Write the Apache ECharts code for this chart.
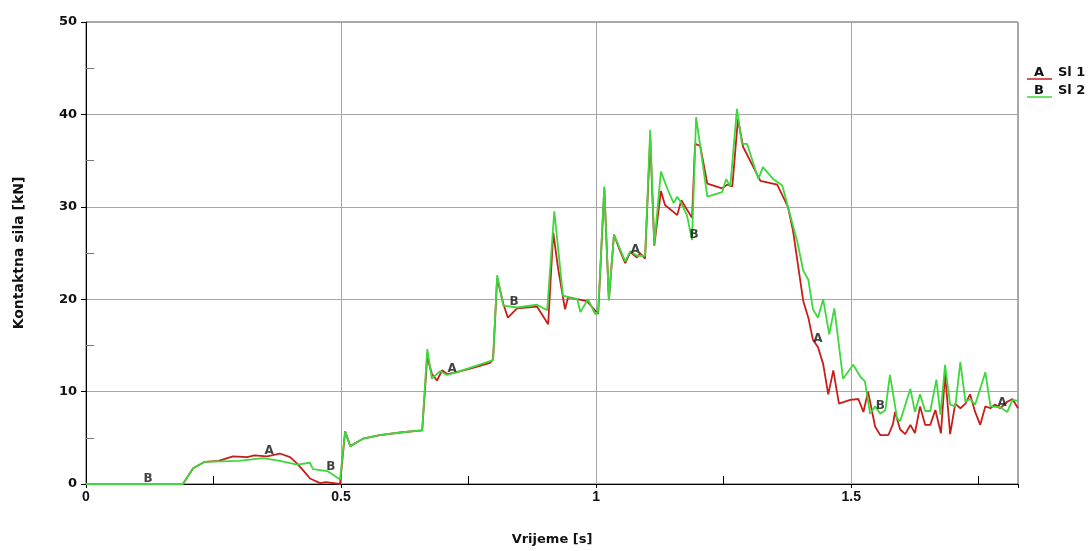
<!DOCTYPE html>
<html>
<head>
<meta charset="utf-8">
<script src="https://cdn.jsdelivr.net/npm/echarts@6/dist/echarts.min.js"></script>
<style>
  html, body { margin: 0; padding: 0; background: #fff; }
  #main { width: 1092px; height: 551px; }
</style>
</head>
<body>
<div id="main"></div>
<script>
// Sl 1 (red) - vrijeme [s] / kontaktna sila [kN]
var sl1Time = [0, 0.19, 0.21, 0.233, 0.26, 0.288, 0.316, 0.33, 0.355, 0.38, 0.40, 0.414, 0.43, 0.439, 0.459, 0.47, 0.498,
  0.500, 0.508, 0.518, 0.543, 0.576, 0.62, 0.659, 0.669, 0.678, 0.688, 0.698, 0.708, 0.727, 0.76, 0.792, 0.798,
  0.806, 0.818, 0.827, 0.845, 0.884, 0.906, 0.916, 0.925, 0.939, 0.945, 0.982, 1.004, 1.016, 1.025, 1.035, 1.045,
  1.057, 1.067, 1.08, 1.086, 1.096, 1.106, 1.114, 1.127, 1.135, 1.159, 1.167, 1.188, 1.194, 1.204, 1.218, 1.247,
  1.257, 1.267, 1.278, 1.288, 1.322, 1.355, 1.376, 1.386, 1.406, 1.416, 1.425, 1.435, 1.445, 1.455, 1.465, 1.476,
  1.498, 1.514, 1.524, 1.533, 1.547, 1.557, 1.573, 1.582, 1.586, 1.596, 1.606, 1.616, 1.625, 1.635, 1.645, 1.655,
  1.665, 1.676, 1.684, 1.694, 1.704, 1.714, 1.724, 1.733, 1.743, 1.753, 1.763, 1.773, 1.782, 1.792, 1.806, 1.816, 1.827];
var sl1Force = [0, 0, 1.7, 2.4, 2.5, 3.0, 2.9, 3.1, 3.0, 3.3, 2.9, 2.2, 1.2, 0.6, 0.1, 0.2, 0,
  0.2, 5.7, 4.1, 4.9, 5.3, 5.6, 5.8, 13.8, 11.9, 11.2, 12.3, 11.9, 12.1, 12.6, 13.1, 13.5,
  22.3, 19.5, 18.0, 19.0, 19.2, 17.3, 27.2, 23.5, 18.9, 20.2, 19.8, 18.4, 32.0, 19.9, 27.0, 25.5,
  23.9, 25.1, 24.5, 25.0, 24.4, 37.5, 25.8, 31.7, 30.2, 29.1, 30.7, 28.8, 36.8, 36.6, 32.5, 32.0,
  32.4, 32.2, 39.5, 36.5, 32.8, 32.4, 30.0, 27.4, 19.8, 18.0, 15.6, 14.8, 13.0, 9.7, 12.3, 8.7,
  9.1, 9.2, 7.8, 10.0, 6.2, 5.3, 5.3, 6.5, 7.8, 5.9, 5.4, 6.4, 5.5, 8.4, 6.4, 6.4,
  8.0, 5.5, 11.9, 5.4, 8.7, 8.2, 8.7, 9.7, 7.8, 6.4, 8.4, 8.2, 8.6, 8.2, 8.9, 9.2, 8.2];

// Sl 2 (green)
var sl2Time = [0, 0.19, 0.21, 0.233, 0.30, 0.347, 0.38, 0.414, 0.439, 0.445, 0.473, 0.498,
  0.500, 0.508, 0.518, 0.543, 0.576, 0.62, 0.659, 0.669, 0.678, 0.694, 0.708, 0.727, 0.76, 0.792, 0.798,
  0.806, 0.818, 0.845, 0.884, 0.904, 0.918, 0.935, 0.963, 0.969, 0.984, 0.998, 1.004, 1.016, 1.025, 1.035,
  1.057, 1.067, 1.08, 1.096, 1.106, 1.114, 1.127, 1.14, 1.152, 1.159, 1.165, 1.178, 1.188, 1.196, 1.218, 1.247, 1.255,
  1.263, 1.276, 1.286, 1.296, 1.318, 1.327, 1.347, 1.365, 1.376, 1.394, 1.406, 1.416, 1.425, 1.435, 1.445,
  1.457, 1.467, 1.484, 1.504, 1.518, 1.527, 1.537, 1.547, 1.557, 1.567, 1.576, 1.59, 1.596, 1.616, 1.625,
  1.635, 1.645, 1.655, 1.667, 1.675, 1.684, 1.694, 1.704, 1.714, 1.724, 1.733, 1.743, 1.763, 1.773, 1.792,
  1.806, 1.816, 1.827];
var sl2Force = [0, 0, 1.7, 2.4, 2.5, 2.8, 2.5, 2.1, 2.3, 1.6, 1.4, 0.5,
  0.3, 5.7, 4.1, 4.9, 5.3, 5.6, 5.8, 14.6, 11.4, 12.2, 11.8, 12.1, 12.7, 13.3, 13.4,
  22.6, 19.3, 19.1, 19.4, 18.8, 29.5, 20.4, 20.0, 18.6, 20.0, 18.4, 18.6, 32.2, 19.9, 27.0,
  24.1, 25.2, 24.7, 24.7, 38.3, 25.9, 33.8, 31.9, 30.4, 31.1, 30.6, 29.1, 26.4, 39.7, 31.1, 31.6, 33.0,
  32.2, 40.6, 36.8, 36.8, 33.0, 34.3, 33.0, 32.3, 30.0, 26.3, 23.1, 22.1, 18.9, 18.0, 20.0,
  16.2, 19.0, 11.4, 12.9, 11.6, 11.1, 7.6, 8.4, 7.6, 8.0, 11.8, 7.1, 6.8, 10.3, 7.8,
  9.7, 7.9, 7.9, 11.3, 7.5, 12.9, 8.6, 8.4, 13.2, 8.9, 9.2, 8.6, 12.1, 8.4, 8.3,
  7.8, 9.1, 9.0];

// curve identifiers drawn along the lines
var markerATimes = [0.355, 0.714, 1.073, 1.431, 1.792];
var markerBTimes = [0.118, 0.476, 0.835, 1.188, 1.553];

var xTicks = [0, 0.5, 1, 1.5];

function pairs(ts, vs) {
  return ts.map(function (t, i) { return [t, vs[i]]; });
}
function valueAt(ts, vs, t) {
  for (var i = 1; i < ts.length; i++) {
    if (t <= ts[i]) {
      var k = (t - ts[i - 1]) / (ts[i] - ts[i - 1]);
      return vs[i - 1] + k * (vs[i] - vs[i - 1]);
    }
  }
  return vs[vs.length - 1];
}

var RED = '#c81e1a';
var GREEN = '#3cd83c';
var FONT = 'Liberation Sans';
var WIDE = 'DejaVu Sans';

function markerSeries(times, ts, vs, letter) {
  return {
    type: 'scatter',
    symbolSize: 0,
    z: 5,
    silent: true,
    data: times.map(function (t) { return [t, valueAt(ts, vs, t)]; }),
    label: {
      show: true, position: 'inside', offset: [2, -5], formatter: letter,
      color: '#111', fontFamily: WIDE, fontWeight: 'bold', fontSize: 12
    }
  };
}

var myChart = echarts.init(document.getElementById('main'));
myChart.setOption({
  animation: false,
  backgroundColor: '#fff',
  grid: { left: 86, right: 74, top: 22, bottom: 63, show: true, borderColor: '#555', borderWidth: 1 },
  xAxis: {
    type: 'value', min: 0, max: 1.827, interval: 0.5, splitNumber: 4,
    name: 'Vrijeme [s]', nameLocation: 'middle', nameGap: 49,
    nameTextStyle: { fontFamily: WIDE, fontWeight: 'bold', fontSize: 13, color: '#111' },
    axisLine: { lineStyle: { color: '#000', width: 1 } },
    axisTick: { length: 4, lineStyle: { color: '#000' } },
    minorTick: { show: true, splitNumber: 2, length: -8, lineStyle: { color: '#000' } },
    axisLabel: {
      margin: 6, showMaxLabel: false, fontFamily: FONT, fontWeight: 'bold', fontSize: 14, color: '#111',
      formatter: function (v) { return xTicks.indexOf(v) >= 0 ? String(v) : ''; }
    },
    splitLine: { show: true, lineStyle: { color: '#a6a6a6', width: 1 } }
  },
  yAxis: {
    type: 'value', min: 0, max: 50, interval: 10,
    name: 'Kontaktna sila [kN]', nameLocation: 'middle', nameGap: 60,
    nameTextStyle: { fontFamily: WIDE, fontWeight: 'bold', fontSize: 14, color: '#111' },
    axisLine: { show: true, lineStyle: { color: '#000', width: 1 } },
    axisTick: { show: true, length: 5, lineStyle: { color: '#000' } },
    minorTick: { show: true, splitNumber: 2, length: -8, lineStyle: { color: '#777' } },
    axisLabel: { margin: 9, fontFamily: WIDE, fontWeight: 'bold', fontSize: 13, color: '#111' },
    splitLine: { show: true, lineStyle: { color: '#a6a6a6', width: 1 } }
  },
  series: [
    {
      name: 'Sl 1', type: 'line', showSymbol: false, z: 2,
      data: pairs(sl1Time, sl1Force),
      lineStyle: { color: RED, width: 1.8 }, itemStyle: { color: RED }
    },
    {
      name: 'Sl 2', type: 'line', showSymbol: false, z: 3,
      data: pairs(sl2Time, sl2Force),
      lineStyle: { color: GREEN, width: 1.8 }, itemStyle: { color: GREEN }
    },
    markerSeries(markerATimes, sl1Time, sl1Force, 'A'),
    markerSeries(markerBTimes, sl2Time, sl2Force, 'B')
  ],
  graphic: [
    { type: 'line', shape: { x1: 1027, y1: 79, x2: 1052, y2: 79 }, style: { stroke: RED, lineWidth: 1.5 } },
    { type: 'text', x: 1034, y: 66, style: { text: 'A', font: 'bold 13px "DejaVu Sans"', fill: '#111' } },
    { type: 'text', x: 1058, y: 66, style: { text: 'Sl 1', font: 'bold 13px "DejaVu Sans"', fill: '#111' } },
    { type: 'line', shape: { x1: 1027, y1: 97, x2: 1052, y2: 97 }, style: { stroke: GREEN, lineWidth: 1.5 } },
    { type: 'text', x: 1034, y: 84, style: { text: 'B', font: 'bold 13px "DejaVu Sans"', fill: '#111' } },
    { type: 'text', x: 1058, y: 84, style: { text: 'Sl 2', font: 'bold 13px "DejaVu Sans"', fill: '#111' } }
  ]
});
</script>
</body>
</html>
